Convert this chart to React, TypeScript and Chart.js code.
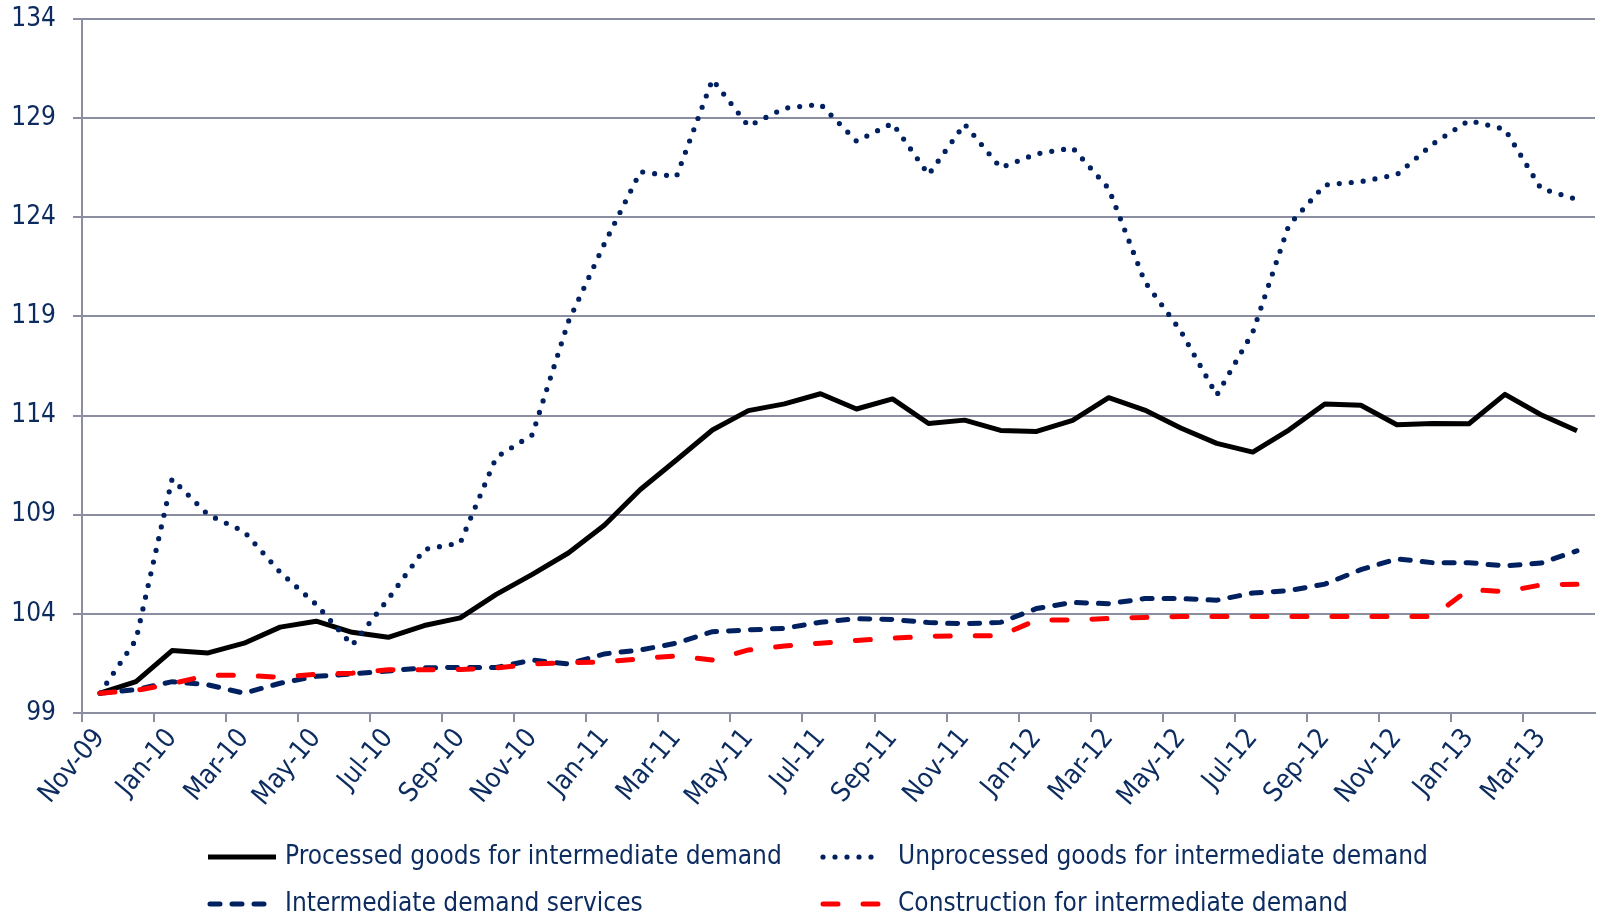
import React, { useEffect, useRef } from 'react';
import { Chart, registerables } from 'chart.js';

Chart.register(...registerables);

const months = [
  'Nov-09', 'Dec-09', 'Jan-10', 'Feb-10', 'Mar-10', 'Apr-10', 'May-10', 'Jun-10', 'Jul-10', 'Aug-10',
  'Sep-10', 'Oct-10', 'Nov-10', 'Dec-10', 'Jan-11', 'Feb-11', 'Mar-11', 'Apr-11', 'May-11', 'Jun-11',
  'Jul-11', 'Aug-11', 'Sep-11', 'Oct-11', 'Nov-11', 'Dec-11', 'Jan-12', 'Feb-12', 'Mar-12', 'Apr-12',
  'May-12', 'Jun-12', 'Jul-12', 'Aug-12', 'Sep-12', 'Oct-12', 'Nov-12', 'Dec-12', 'Jan-13', 'Feb-13',
  'Mar-13', 'Apr-13',
];

const processed = [
  100.0, 100.58, 102.15, 102.03, 102.52, 103.33, 103.63, 103.07, 102.82, 103.41,
  103.8, 104.98, 105.99, 107.07, 108.47, 110.27, 111.76, 113.27, 114.25, 114.59,
  115.1, 114.33, 114.84, 113.6, 113.77, 113.25, 113.2, 113.76, 114.9, 114.28,
  113.37, 112.6, 112.16, 113.27, 114.58, 114.52, 113.54, 113.6, 113.59, 115.07,
  114.04, 113.23,
];

const unprocessed = [
  100.0, 102.7, 110.8, 109.0, 108.15, 106.1, 104.48, 102.42, 104.75, 107.25,
  107.58, 111.9, 113.03, 118.73, 122.66, 126.3, 126.05, 130.95, 128.6, 129.5,
  129.7, 127.84, 128.74, 126.15, 128.7, 126.5, 127.2, 127.5, 125.45, 120.76,
  118.27, 115.03, 118.2, 123.6, 125.63, 125.8, 126.15, 127.7, 128.88, 128.44,
  125.45, 124.9,
];

const services = [
  100.0, 100.18, 100.58, 100.42, 100.0, 100.5, 100.85, 100.97, 101.12, 101.28,
  101.3, 101.3, 101.67, 101.47, 101.98, 102.18, 102.52, 103.1, 103.19, 103.27,
  103.58, 103.76, 103.72, 103.56, 103.5, 103.57, 104.27, 104.58, 104.51, 104.77,
  104.77, 104.69, 105.05, 105.17, 105.5, 106.23, 106.77, 106.58, 106.58, 106.42,
  106.56, 107.18,
];

const construction = [
  100.0, 100.14, 100.48, 100.9, 100.9, 100.8, 100.95, 101.01, 101.18, 101.18,
  101.2, 101.27, 101.47, 101.54, 101.57, 101.74, 101.88, 101.67, 102.18, 102.38,
  102.52, 102.66, 102.77, 102.86, 102.9, 102.9, 103.69, 103.69, 103.77, 103.82,
  103.87, 103.87, 103.87, 103.87, 103.87, 103.87, 103.87, 103.87, 105.23, 105.12,
  105.46, 105.49,
];

const seriesLabels = [
  'Processed goods for intermediate demand',
  'Unprocessed goods for intermediate demand',
  'Intermediate demand services',
  'Construction for intermediate demand',
];

const Y_MIN = 99;
const Y_MAX = 134;
const Y_STEP = 5;

const FONT = "'DejaVu Sans Condensed', 'DejaVu Sans', sans-serif";
const TEXT = '#0c2b5e';
const NAVY = '#002060';
const RED = '#ff0000';
const GRID = '#8b8ea0';

const LEGEND_COLS = [208, 821];
const LEGEND_ROWS = [857, 904];
const LEGEND_SAMPLE = 68;
const LEGEND_GAP = 77;

const gridLegend = {
  id: 'gridLegend',
  afterDraw(chart: any) {
    const ctx = chart.ctx as CanvasRenderingContext2D;
    chart.data.datasets.forEach((ds: any, i: number) => {
      const x = LEGEND_COLS[i % 2];
      const y = LEGEND_ROWS[Math.floor(i / 2)];
      const dash: number[] = ds.borderDash || [];
      let len = LEGEND_SAMPLE;
      if (dash.length === 2) {
        const period = dash[0] + dash[1];
        const n = Math.floor((LEGEND_SAMPLE + dash[1]) / period);
        len = n * period - dash[1];
      }
      ctx.save();
      ctx.beginPath();
      ctx.strokeStyle = ds.borderColor;
      ctx.lineWidth = ds.borderWidth;
      ctx.lineCap = dash.length ? 'round' : 'butt';
      ctx.setLineDash(dash);
      const x0 = x + (dash.length ? 2 : 0);
      ctx.moveTo(x0, y);
      ctx.lineTo(x0 + len, y);
      ctx.stroke();
      ctx.setLineDash([]);
      ctx.fillStyle = TEXT;
      ctx.font = `26px ${FONT}`;
      ctx.textBaseline = 'middle';
      ctx.textAlign = 'left';
      ctx.fillText(ds.label, x + LEGEND_GAP, y);
      ctx.restore();
    });
  },
};

export default function App() {
  const ref = useRef<HTMLCanvasElement | null>(null);

  useEffect(() => {
    if (!ref.current) return;
    const chart = new Chart(ref.current, {
      type: 'line',
      data: {
        labels: months,
        datasets: [
          {
            label: seriesLabels[0],
            data: processed,
            borderColor: '#000000',
            borderWidth: 5,
            borderJoinStyle: 'round',
            pointRadius: 0,
            tension: 0,
            order: 4,
          },
          {
            label: seriesLabels[1],
            data: unprocessed,
            borderColor: NAVY,
            borderWidth: 5.2,
            borderDash: [0, 12],
            borderCapStyle: 'round',
            pointRadius: 0,
            tension: 0,
            order: 3,
          },
          {
            label: seriesLabels[2],
            data: services,
            borderColor: NAVY,
            borderWidth: 5,
            borderDash: [10, 12],
            borderCapStyle: 'round',
            pointRadius: 0,
            tension: 0,
            order: 2,
          },
          {
            label: seriesLabels[3],
            data: construction,
            borderColor: RED,
            borderWidth: 5,
            borderDash: [15, 25],
            borderCapStyle: 'round',
            pointRadius: 0,
            tension: 0,
            order: 1,
          },
        ],
      },
      options: {
        animation: false,
        responsive: true,
        maintainAspectRatio: false,
        layout: { padding: { left: 8, right: 8, top: 19, bottom: 104 } },
        font: { family: FONT },
        plugins: {
          legend: { display: false },
          tooltip: { enabled: false },
        },
        scales: {
          x: {
            offset: true,
            grid: {
              offset: true,
              drawOnChartArea: false,
              drawTicks: true,
              tickLength: 9,
              lineWidth: 2,
              color: (c: any) => (c.index % 2 === 0 ? GRID : 'rgba(0,0,0,0)'),
            },
            border: { color: GRID, width: 2 },
            ticks: {
              autoSkip: false,
              maxRotation: 50,
              minRotation: 50,
              padding: 1,
              color: TEXT,
              font: { size: 27, family: FONT },
              callback: (_v: any, i: number) => (i % 2 === 0 ? months[i] : ''),
            },
            afterFit: (s: any) => {
              s.height = 100;
              s.paddingLeft = 0;
              s.paddingRight = 0;
            },
          },
          y: {
            min: Y_MIN,
            max: Y_MAX,
            ticks: {
              stepSize: Y_STEP,
              padding: 17,
              color: TEXT,
              font: { size: 26, family: FONT },
            },
            grid: { color: GRID, lineWidth: 2, tickLength: 9 },
            border: { color: GRID, width: 2 },
            afterFit: (s: any) => {
              s.width = 74;
              s.paddingTop = 0;
              s.paddingBottom = 0;
            },
          },
        },
      },
      plugins: [gridLegend],
    } as any);
    return () => chart.destroy();
  }, []);

  return (
    <div style={{ position: 'fixed', left: 0, top: 0, width: 1603, height: 917, background: '#ffffff' }}>
      <canvas ref={ref} />
    </div>
  );
}
